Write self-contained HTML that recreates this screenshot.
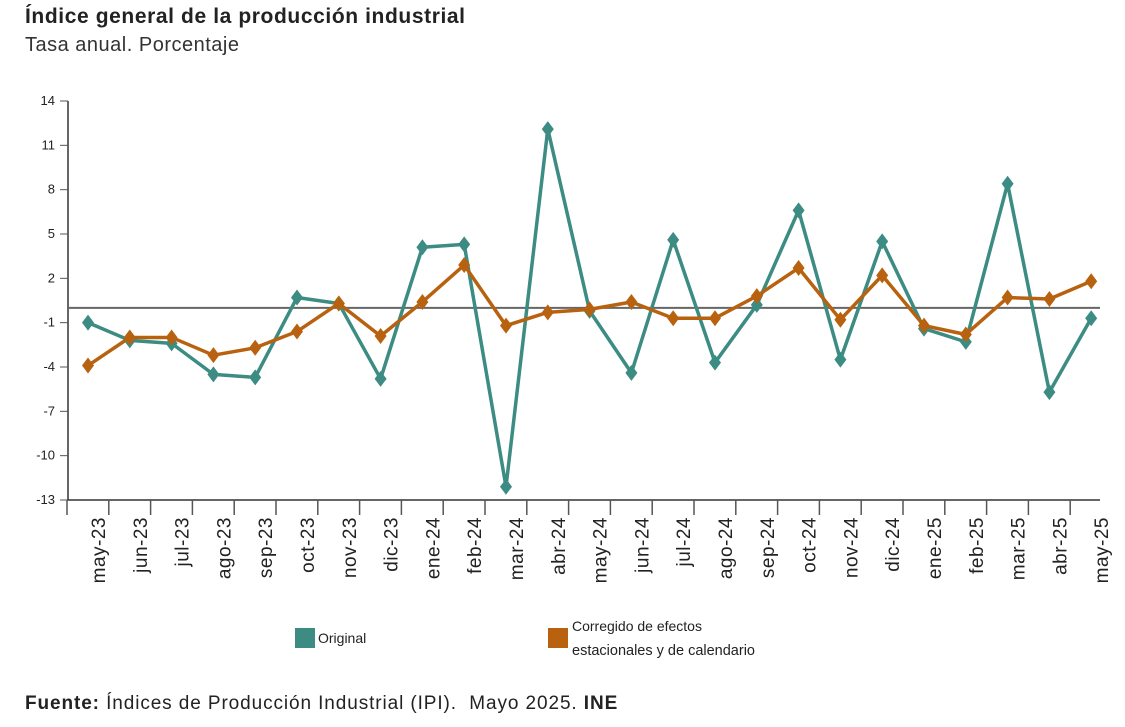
<!DOCTYPE html>
<html><head><meta charset="utf-8"><style>
body{margin:0;background:#fff;width:1125px;height:727px;overflow:hidden;font-family:"Liberation Sans",sans-serif;}
.t{position:absolute;left:25px;top:5px;font-size:21px;font-weight:bold;color:#222;letter-spacing:0.6px;}
.s{position:absolute;left:25px;top:34px;font-size:20px;color:#333;letter-spacing:0.5px;}
.f{position:absolute;left:25px;top:693px;font-size:19px;color:#222;letter-spacing:0.9px;}
svg{position:absolute;left:0;top:0;}
</style></head><body>
<div class="t">Índice general de la producción industrial</div>
<div class="s">Tasa anual. Porcentaje</div>
<svg id="c" width="1125" height="727"></svg>
<div class="f"><b>Fuente:</b> Índices de Producción Industrial (IPI).&nbsp; Mayo 2025. <b>INE</b></div>
<script>
const categories=["may-23","jun-23","jul-23","ago-23","sep-23","oct-23","nov-23","dic-23","ene-24","feb-24","mar-24","abr-24","may-24","jun-24","jul-24","ago-24","sep-24","oct-24","nov-24","dic-24","ene-25","feb-25","mar-25","abr-25","may-25"];
const original=[-1.0,-2.2,-2.4,-4.5,-4.7,0.7,0.3,-4.8,4.1,4.3,-12.1,12.1,-0.2,-4.4,4.6,-3.7,0.2,6.6,-3.5,4.5,-1.4,-2.3,8.4,-5.7,-0.7];
const corregido=[-3.9,-2.0,-2.0,-3.2,-2.7,-1.6,0.3,-1.9,0.4,2.9,-1.2,-0.3,-0.1,0.4,-0.7,-0.7,0.8,2.7,-0.8,2.2,-1.2,-1.8,0.7,0.6,1.8];
const yTicks=[14,11,8,5,2,-1,-4,-7,-10,-13];
const NS="http://www.w3.org/2000/svg",svg=document.getElementById("c");
const y=v=>101+(14-v)*(399/27);
const x=i=>88+i*41.8;
function mk(t,a){const e=document.createElementNS(NS,t);for(const k in a)e.setAttribute(k,a[k]);svg.appendChild(e);return e;}
let e=mk("line",{x1:68,y1:101,x2:68,y2:500,stroke:"#333","stroke-width":1.5});

e=mk("line",{x1:67,y1:500,x2:1100,y2:500,stroke:"#333","stroke-width":1.5});

yTicks.forEach(v=>{mk("line",{x1:60,y1:y(v),x2:68,y2:y(v),stroke:"#555"});
 const t=mk("text",{x:55,y:y(v)+4,"text-anchor":"end","font-size":13,fill:"#222"});t.textContent=v;
 });
for(let i=0;i<categories.length;i++){const tx=x(i)-21;mk("line",{x1:tx,y1:500,x2:tx,y2:515,stroke:"#555","stroke-width":1.5});}
categories.forEach((c,i)=>{const t=mk("text",{x:0,y:0,transform:`translate(${x(i)+17},517) rotate(-90)`,"text-anchor":"end","font-size":19,fill:"#222","letter-spacing":0.5});t.textContent=c;
 });
e=mk("line",{x1:68,y1:y(0),x2:1100,y2:y(0),stroke:"#666","stroke-width":2});

function series(vals,col,name){
 const p=mk("polyline",{points:vals.map((v,i)=>x(i)+","+y(v)).join(" "),fill:"none",stroke:col,"stroke-width":3.5,"stroke-linejoin":"round"});
 
 vals.forEach((v,i)=>{const cx=x(i),cy=y(v);const d=mk("polygon",{points:`${cx},${cy-8} ${cx+6},${cy} ${cx},${cy+8} ${cx-6},${cy}`,fill:col});
  });
}
series(original,"#3c8c84","original");
series(corregido,"#b8620f","corregido");
e=mk("rect",{x:295,y:628,width:20,height:20,fill:"#3c8c84"});

e=mk("text",{x:318,y:643,"font-size":14,fill:"#222"});e.textContent="Original";

e=mk("rect",{x:548,y:628,width:20,height:20,fill:"#b8620f"});

e=mk("text",{x:572,y:631,"font-size":14,fill:"#222"});e.textContent="Corregido de efectos";

e=mk("text",{x:572,y:655,"font-size":14.5,fill:"#222"});e.textContent="estacionales y de calendario";

</script>
</body></html>
